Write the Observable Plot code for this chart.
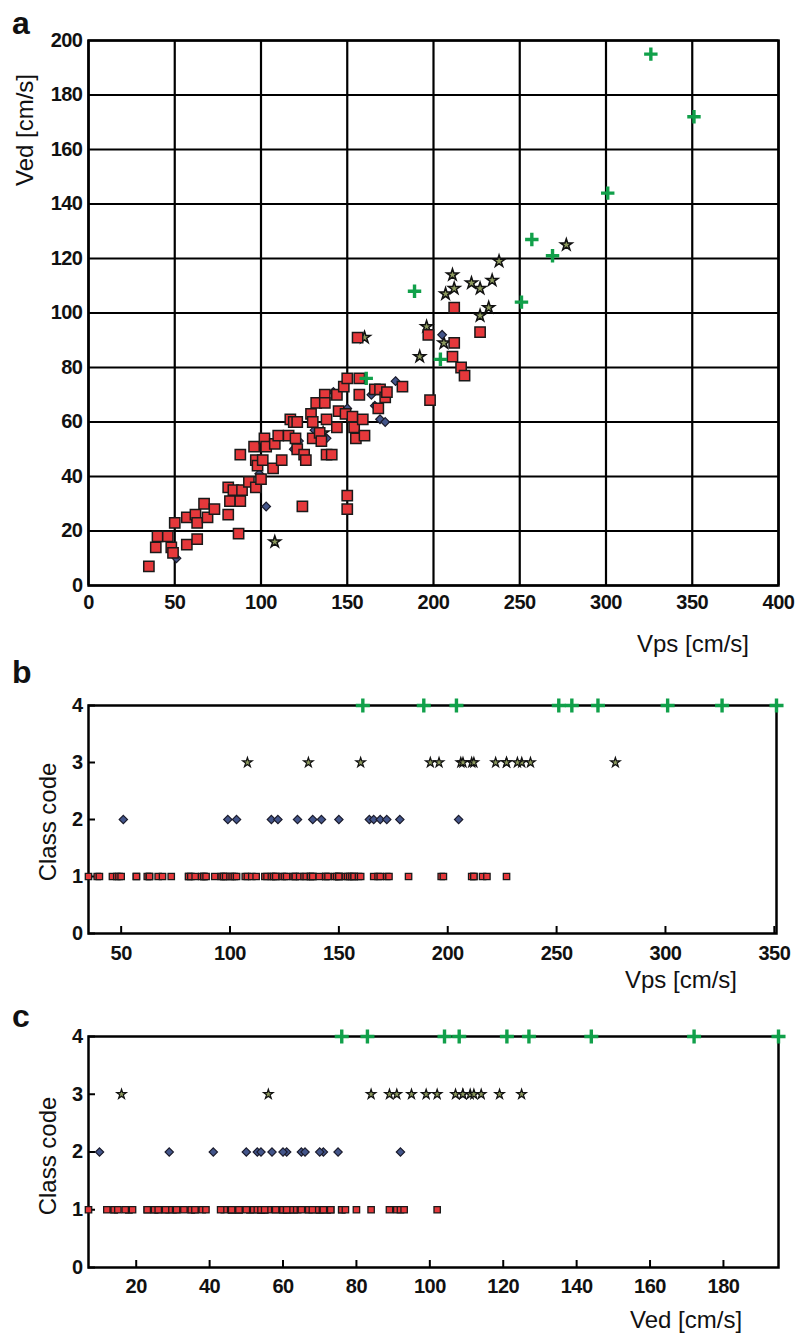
<!DOCTYPE html>
<html><head><meta charset="utf-8">
<script src="https://cdn.jsdelivr.net/npm/d3@7"></script>
<script src="https://cdn.jsdelivr.net/npm/@observablehq/plot@0.6"></script>
<style>
body{margin:0;background:#fff;}
#wrap{position:relative;width:799px;height:1337px;font-family:"Liberation Sans",Arial,sans-serif;color:#111;overflow:hidden;}
.panel{position:absolute;left:0;}
.lbl{position:absolute;font-size:24px;white-space:nowrap;line-height:1;}
.rot{transform:translate(-50%,-50%) rotate(-90deg);}
.letter{position:absolute;font-size:32px;font-weight:bold;line-height:1;}
</style></head><body><div id="wrap"></div>
<script>
// ---- data: class 1 (red squares) ----
const vps1 = [35,39,40,46,48,49,50,57,57,62,63,63,67,69,73,81,81,82,84,87,88,88,89,93,96,97,97,98,100,101,102,103,107,108,110,112,116,117,119,120,121,121,124,125,126,129,130,130,132,134,135,137,137,138,138,141,144,144,145,148,149,150,150,150,153,154,155,156,157,157,159,160,166,168,169,172,173,182,197,198,211,212,212,216,218,227];
const ved1 = [7,14,18,18,14,12,23,15,25,26,23,17,30,25,28,26,36,31,35,19,48,31,35,38,51,46,36,44,39,46,54,51,43,52,55,46,55,61,60,54,60,50,29,48,46,63,60,54,67,56,53,70,67,61,48,48,70,58,64,73,63,33,28,76,62,58,54,91,76,70,61,55,72,65,72,69,71,73,92,68,84,89,102,80,77,93];
// ---- class 2 (diamonds) ----
const vps2 = [51,99,103,119,122,131,138,142,150,164,166,169,172,178,205];
const ved2 = [10,41,29,50,53,57,54,71,65,70,66,61,60,75,92];
// ---- class 3 (stars) ----
const vps3 = [108,136,160,192,196,206,207,211,212,222,227,227,234,232,238,277];
const ved3 = [16,56,91,84,95,89,107,114,109,111,109,99,112,102,119,125];
// ---- class 4 (plus) ----
const vps4 = [161,204,251,189,269,257,301,351,326];
const ved4 = [76,83,104,108,121,127,144,172,195];

const classCodes = [0,1,2,3,4];
const xTicksA = [0,50,100,150,200,250,300,350,400];
const yTicksA = [0,20,40,60,80,100,120,140,160,180,200];
const xTicksB = [50,100,150,200,250,300,350];
const xTicksC = [20,40,60,80,100,120,140,160,180];

const rows = [];
[[vps1,ved1,1],[vps2,ved2,2],[vps3,ved3,3],[vps4,ved4,4]].forEach(([a,b,c]) => a.forEach((v,i) => rows.push({vps:v, ved:b[i], cls:c})));
const byCls = c => rows.filter(d => d.cls === c);

const FONT = "Liberation Sans, Arial, sans-serif";
const svgStyle = {fontFamily: FONT, fontSize: "20px", fontWeight: "bold", letterSpacing: "-0.5px", background: "transparent", overflow: "visible", color: "#111"};
const fmt = d3.format("d");
const sq = {symbol:"square", fill:"#e5383b", stroke:"#1a1a1a"};
const dia = {symbol:"diamond2", fill:"#43558a", stroke:"#1a1a2a"};
const st = {symbol:"star", fill:"#8d9a5e", stroke:"#111"};
const pl = {symbol:"plus", fill:"none", stroke:"#11a04a"};

function markers(xkey, ykey, big) {
  return [
    Plot.dot(byCls(3), {x:xkey, y:ykey, ...st, r: big?3.7:3.0, strokeWidth: big?1.5:1.2}),
    Plot.dot(byCls(2), {x:xkey, y:ykey, ...dia, r: big?3.9:3.8, strokeWidth: big?1.2:1.1}),
    Plot.dot(byCls(1), {x:xkey, y:ykey, ...sq, r: big?5.8:3.6, strokeWidth: big?1.5:1.3}),
    Plot.dot(byCls(4), {x:xkey, y:ykey, ...pl, r: big?4.4:4.6, strokeWidth: 3.4})
  ];
}

const wrap = document.getElementById("wrap");
function place(el, top) { const d = document.createElement("div"); d.className = "panel"; d.style.top = top + "px"; d.appendChild(el); wrap.appendChild(d); }
function text(str, cls, css) { const d = document.createElement("div"); d.className = cls; d.textContent = str; Object.assign(d.style, css); wrap.appendChild(d); }

// ---- panel a ----
const A = Plot.plot({
  width: 799, height: 670, marginLeft: 88, marginRight: 21, marginTop: 40, marginBottom: 85,
  x: {domain: [0, 400]}, y: {domain: [0, 200]},
  style: svgStyle,
  marks: [
    Plot.ruleX(xTicksA, {stroke: "#000", strokeWidth: 2.2}),
    Plot.ruleY(yTicksA, {stroke: "#000", strokeWidth: 2.2}),
    Plot.frame({stroke: "#000", strokeWidth: 2.5}),
    Plot.axisX(xTicksA, {tickSize: 0, tickPadding: 9, label: null, tickFormat: fmt}),
    Plot.axisY(yTicksA, {tickSize: 0, tickPadding: 6, label: null, tickFormat: fmt}),
    ...markers("vps", "ved", true)
  ]
});
place(A, 0);

// ---- panel b ----
const hB = 320, mtB = 25, mbB = 67;
const B = Plot.plot({
  width: 799, height: hB, marginLeft: 88, marginRight: 23, marginTop: mtB, marginBottom: mbB,
  x: {domain: d3.extent(rows, d => d.vps)}, y: {domain: [0, 4]},
  style: svgStyle,
  marks: [
    Plot.frame({stroke: "#000", strokeWidth: 2.5}),
    Plot.ruleX(xTicksB, {stroke: "#000", strokeWidth: 2, insetTop: hB - mtB - mbB - 7}),
    Plot.ruleY(classCodes, {stroke: "#000", strokeWidth: 2, insetRight: 799 - 88 - 23 - 7}),
    Plot.axisX(xTicksB, {tickSize: 0, tickPadding: 12, label: null, tickFormat: fmt}),
    Plot.axisY(classCodes, {tickSize: 0, tickPadding: 6, label: null, tickFormat: fmt}),
    ...markers("vps", "cls", false)
  ]
});
place(B, 680);

// ---- panel c ----
const hC = 332, mtC = 31, mbC = 70;
const C = Plot.plot({
  width: 799, height: hC, marginLeft: 88, marginRight: 21, marginTop: mtC, marginBottom: mbC,
  x: {domain: d3.extent(rows, d => d.ved)}, y: {domain: [0, 4]},
  style: svgStyle,
  marks: [
    Plot.frame({stroke: "#000", strokeWidth: 2.5}),
    Plot.ruleX(xTicksC, {stroke: "#000", strokeWidth: 2, insetTop: hC - mtC - mbC - 7}),
    Plot.ruleY(classCodes, {stroke: "#000", strokeWidth: 2, insetRight: 799 - 88 - 21 - 7}),
    Plot.axisX(xTicksC, {tickSize: 0, tickPadding: 11, label: null, tickFormat: fmt}),
    Plot.axisY(classCodes, {tickSize: 0, tickPadding: 6, label: null, tickFormat: fmt}),
    ...markers("ved", "cls", false)
  ]
});
place(C, 1005);

// ---- texts ----
text("a", "letter", {left: "12px", top: "7px"});
text("b", "letter", {left: "12px", top: "656px"});
text("c", "letter", {left: "12px", top: "1000px"});
text("Ved [cm/s]", "lbl rot", {left: "25px", top: "130px"});
text("Vps [cm/s]", "lbl", {left: "637px", top: "632px"});
text("Class code", "lbl rot", {left: "48px", top: "822px"});
text("Vps [cm/s]", "lbl", {left: "625px", top: "968px"});
text("Class code", "lbl rot", {left: "48px", top: "1156px"});
text("Ved [cm/s]", "lbl", {left: "630px", top: "1308px"});
</script></body></html>
